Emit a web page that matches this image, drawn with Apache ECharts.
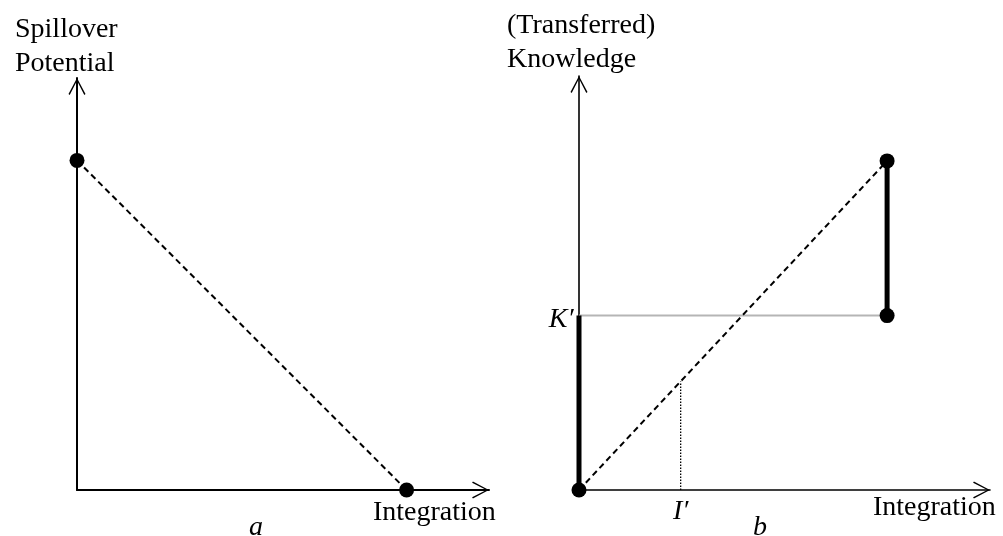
<!DOCTYPE html>
<html><head><meta charset="utf-8">
<script src="https://cdn.jsdelivr.net/npm/echarts@6/dist/echarts.min.js"></script>
<style>html,body{margin:0;padding:0;background:#fff}#c{width:1003px;height:536px}</style>
</head><body><div id="c"></div>
<script>
// ---- Panel a: spillover potential falls as integration rises ----
const spillPoints = [[0, 1], [1, 0]];
// ---- Panel b: transferred knowledge rises with integration ----
const knowledgePoints = [[0, 0], [1, 1]];
const kPrime = 0.53;   // K'
const iPrime = 0.33;   // I'
const kLabel = 'K\u2032';
const iLabel = 'I\u2032';
const texts = {
  aY: 'Spillover\nPotential',
  bY: '(Transferred)\nKnowledge',
  x: 'Integration',
  aTag: 'a',
  bTag: 'b'
};

const FONT = '"Liberation Serif", "Times New Roman", serif';
const arrowPath = 'path://M0,94 L50,0 L100,94 L93,99 L50,15 L7,99 Z';

function axis(max, gridIndex, w) {
  return {
    type: 'value', gridIndex: gridIndex, min: 0, max: max,
    axisLine: { show: true, onZero: false, symbol: ['none', arrowPath], symbolSize: [17, 17], symbolOffset: [0, -8.5],
      lineStyle: { color: '#000', width: w } },
    axisTick: { show: false }, axisLabel: { show: false }, splitLine: { show: false }
  };
}

const chart = echarts.init(document.getElementById('c'), null, { renderer: 'canvas' });
chart.setOption({
  animation: false,
  backgroundColor: '#fff',
  grid: [
    { left: 77, top: 78, width: 412, height: 412 },
    { left: 579, top: 76, width: 411, height: 414 }
  ],
  xAxis: [axis(1.25, 0, 2), axis(1.334, 1, 1.6)],
  yAxis: [axis(1.25, 0, 2), axis(1.258, 1, 1.6)],
  series: [
    { type: 'line', xAxisIndex: 0, yAxisIndex: 0, data: spillPoints, symbol: 'none',
      lineStyle: { color: '#000', width: 2, type: [6, 4] }, z: 2 },
    { type: 'scatter', xAxisIndex: 0, yAxisIndex: 0, data: spillPoints, symbolSize: 15,
      itemStyle: { color: '#000', opacity: 1 }, z: 5 },

    { type: 'line', xAxisIndex: 1, yAxisIndex: 1, data: knowledgePoints, symbol: 'none',
      lineStyle: { color: '#000', width: 2, type: [6, 4] }, z: 2 },
    { type: 'line', xAxisIndex: 1, yAxisIndex: 1, data: [[0, kPrime], [1, kPrime]], symbol: 'none',
      lineStyle: { color: '#b5b5b5', width: 2 }, z: 1 },
    { type: 'line', xAxisIndex: 1, yAxisIndex: 1, data: [[0, 0], [0, kPrime]], symbol: 'none',
      lineStyle: { color: '#000', width: 5, cap: 'butt' }, z: 3 },
    { type: 'line', xAxisIndex: 1, yAxisIndex: 1, data: [[1, kPrime], [1, 1]], symbol: 'none',
      lineStyle: { color: '#000', width: 5, cap: 'butt' }, z: 3 },
    { type: 'line', xAxisIndex: 1, yAxisIndex: 1, data: [[iPrime, 0], [iPrime, iPrime]], symbol: 'none',
      lineStyle: { color: '#000', width: 1.3, type: [1.5, 1.5] }, z: 2 },
    { type: 'scatter', xAxisIndex: 1, yAxisIndex: 1, data: [[0, 0], [1, 1], [1, kPrime]], symbolSize: 15,
      itemStyle: { color: '#000', opacity: 1 }, z: 5 },
    { type: 'scatter', xAxisIndex: 1, yAxisIndex: 1, symbolSize: 1, itemStyle: { color: 'rgba(0,0,0,0)', opacity: 1 }, z: 6,
      label: { show: true, color: '#000', opacity: 1, fontFamily: FONT, fontSize: 28, fontStyle: 'italic' },
      data: [
        { value: [0, kPrime], label: { position: 'left', distance: 5, offset: [0, 4], formatter: kLabel } },
        { value: [iPrime, 0], label: { position: 'bottom', distance: 7, formatter: iLabel } }
      ] }
  ],
  graphic: [
    { type: 'text', style: { x: 15, y: 12.5, text: texts.aY, fontFamily: FONT, fontSize: 28, lineHeight: 34, fill: '#000', align: 'left', verticalAlign: 'top' } },
    { type: 'text', style: { x: 507, y: 8.5, text: texts.bY, fontFamily: FONT, fontSize: 28, lineHeight: 34, fill: '#000', align: 'left', verticalAlign: 'top' } },
    { type: 'text', style: { x: 373, y: 512.5, text: texts.x, fontFamily: FONT, fontSize: 28, fill: '#000', align: 'left', verticalAlign: 'middle' } },
    { type: 'text', style: { x: 873, y: 507.5, text: texts.x, fontFamily: FONT, fontSize: 28, fill: '#000', align: 'left', verticalAlign: 'middle' } },
    { type: 'text', style: { x: 256, y: 527.5, text: texts.aTag, fontFamily: FONT, fontSize: 28, fontStyle: 'italic', fill: '#000', align: 'center', verticalAlign: 'middle' } },
    { type: 'text', style: { x: 760, y: 528, text: texts.bTag, fontFamily: FONT, fontSize: 28, fontStyle: 'italic', fill: '#000', align: 'center', verticalAlign: 'middle' } }
  ]
});
</script>
</body></html>
